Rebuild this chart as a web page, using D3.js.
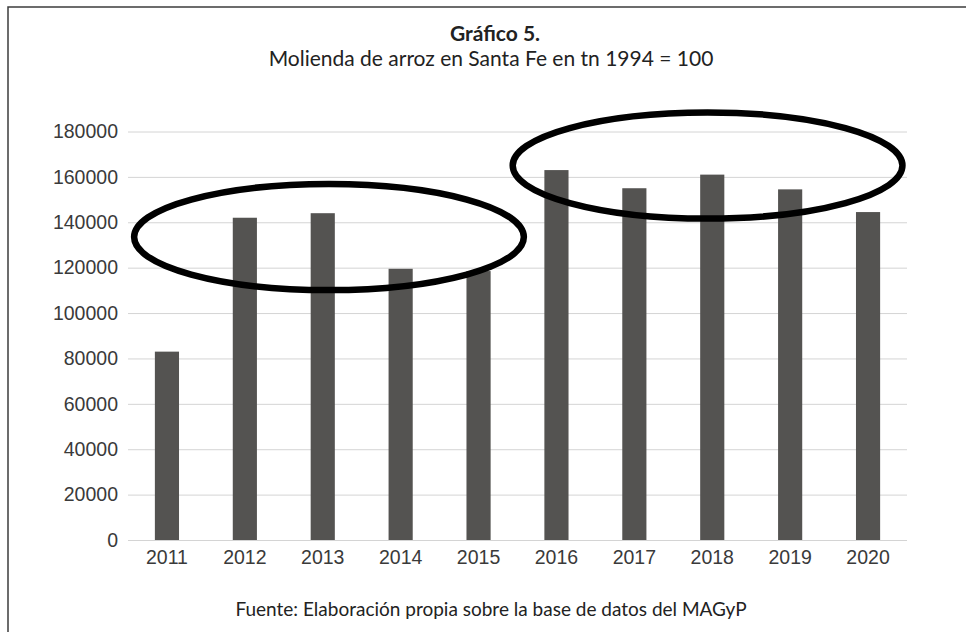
<!DOCTYPE html>
<html>
<head>
<meta charset="utf-8">
<script src="https://cdn.jsdelivr.net/npm/d3@7"></script>
<style>
  body { margin: 0; background: #fff; }
  svg { display: block; font-family: Lato, "Open Sans", sans-serif; }
  .grid line { stroke: #d4d4d4; stroke-width: 1; }
  .grid text, .years text { font-size: 19.5px; fill: #3a3a3a; }
</style>
</head>
<body>
<svg width="966" height="632"></svg>
<script>
"use strict";

// Molienda de arroz en Santa Fe (tn)
var years = ["2011", "2012", "2013", "2014", "2015", "2016", "2017", "2018", "2019", "2020"];
var molienda = [83000, 142000, 144000, 119500, 118500, 163000, 155000, 161000, 154500, 144500];
var yTicks = [0, 20000, 40000, 60000, 80000, 100000, 120000, 140000, 160000, 180000];

// ovalos de resaltado: anio central y valor central
var ovaloAnio = ["2013", "2018"];
var ovaloValor = [133500, 165000];

var svg = d3.select("svg");

var plotLeft = 128, plotRight = 907, plotBottom = 540, plotTop = 131.5;

var x = d3.scaleBand()
    .domain(years)
    .range([plotLeft, plotRight])
    .paddingInner(0.69)
    .paddingOuter(0.345);

var y = d3.scaleLinear()
    .domain([0, 180000])
    .range([plotBottom, plotTop]);

// marco (cortado a la derecha y abajo)
svg.append("path")
    .attr("d", "M966,7H8V632")
    .attr("fill", "none")
    .attr("stroke", "#3c3c3c")
    .attr("stroke-width", 1.5);

// titulos
svg.append("text")
    .attr("x", 495).attr("y", 41)
    .attr("text-anchor", "middle")
    .style("font-size", "21px")
    .style("font-weight", "bold")
    .style("fill", "#222")
    .text("Gráfico 5.");

svg.append("text")
    .attr("x", 491).attr("y", 66)
    .attr("text-anchor", "middle")
    .style("font-size", "21px")
    .style("fill", "#222")
    .text("Molienda de arroz en Santa Fe en tn 1994 = 100");

// grilla y eje y
var grid = svg.append("g")
    .attr("class", "grid")
    .attr("transform", "translate(" + plotLeft + ",0)")
    .call(d3.axisLeft(y)
        .tickValues(yTicks)
        .tickFormat(d3.format("d"))
        .tickSize(-(plotRight - plotLeft))
        .tickPadding(10));
grid.select(".domain").remove();

// barras
svg.append("g")
  .selectAll("rect")
  .data(molienda)
  .enter()
    .append("rect")
    .attr("x", function (d, i) { return x(years[i]); })
    .attr("y", function (d) { return y(d); })
    .attr("width", x.bandwidth())
    .attr("height", function (d) { return y(0) - y(d); })
    .attr("fill", "#545351");

// eje x
var xAxis = svg.append("g")
    .attr("class", "years")
    .attr("transform", "translate(0," + plotBottom + ")")
    .call(d3.axisBottom(x).tickSize(0).tickPadding(10));
xAxis.select(".domain").remove();

// ovalos
var shift = [0.08, -0.06];
svg.append("g")
  .selectAll("ellipse")
  .data(ovaloAnio)
  .enter()
    .append("ellipse")
    .attr("cx", function (d, i) { return x(d) + x.bandwidth() / 2 + shift[i] * x.step(); })
    .attr("cy", function (d, i) { return y(ovaloValor[i]); })
    .attr("rx", 2.54 * x.step() - 3)
    .attr("ry", y(0) - y(24700) - 3)
    .attr("fill", "none")
    .attr("stroke", "#000")
    .attr("stroke-width", 6.5);

// fuente
svg.append("text")
    .attr("x", 491).attr("y", 616)
    .attr("text-anchor", "middle")
    .style("font-size", "19px")
    .style("fill", "#222")
    .text("Fuente: Elaboración propia sobre la base de datos del MAGyP");
</script>
</body>
</html>
